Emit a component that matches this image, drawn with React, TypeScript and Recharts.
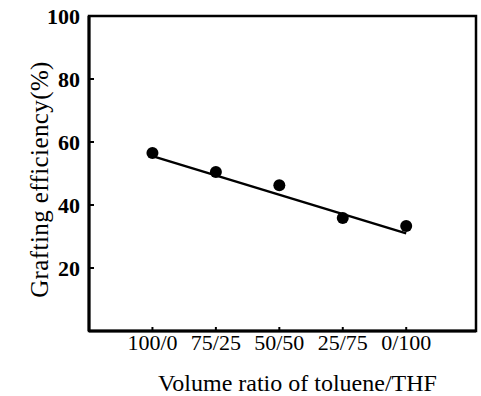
import React from 'react';
import { ScatterChart, Scatter, XAxis, YAxis, ReferenceArea, Label } from 'recharts';

const categories = ['100/0', '75/25', '50/50', '25/75', '0/100'];
const efficiency = [56.5, 50.5, 46.3, 35.9, 33.3];
const fitX = [0, 4];
const fitY = [55.5, 31];
const yTicks = [20, 40, 60, 80, 100];
const xTicks = [0, 1, 2, 3, 4];
const xTitle = 'Volume ratio of toluene/THF';
const yTitle = 'Grafting efficiency(%)';

const points = categories.map((c, i) => ({ x: i, y: efficiency[i], name: c }));
const fitLine = fitX.map((x, i) => ({ x, y: fitY[i] }));

const FONT = '"Liberation Serif", "DejaVu Serif", serif';

const Dot = (props: any) => <circle cx={props.cx} cy={props.cy} r={6} fill="#000" />;
const NoShape = () => <g />;

export default function App() {
  return (
    <div style={{ position: 'absolute', left: 0, top: 0, width: 481, height: 396, background: '#fff' }}>
      <ScatterChart width={481} height={396} margin={{ top: 16, right: 5, bottom: 0, left: 0 }}>
        <XAxis
          type="number"
          dataKey="x"
          domain={[-1, 5.1]}
          ticks={xTicks}
          interval={0}
          allowDataOverflow
          tickFormatter={(v: number) => categories[v]}
          height={65}
          axisLine={{ stroke: '#000', strokeWidth: 3 }}
          tickLine={{ stroke: '#000', strokeWidth: 2 }}
          tickSize={-4}
          tickMargin={7}
          tick={{ fill: '#000', fontSize: 22, fontFamily: FONT }}
        >
          <Label
            content={({ viewBox }: any) => (
              <text
                x={viewBox.x + viewBox.width / 2 + 15}
                y={viewBox.y + viewBox.height - 5}
                textAnchor="middle"
                fill="#000"
                fontSize={24}
                fontFamily={FONT}
              >
                {xTitle}
              </text>
            )}
          />
        </XAxis>
        <YAxis
          type="number"
          dataKey="y"
          domain={[0, 100]}
          ticks={yTicks}
          interval={0}
          allowDataOverflow
          width={89}
          axisLine={{ stroke: '#000', strokeWidth: 3 }}
          tickLine={{ stroke: '#000', strokeWidth: 2 }}
          tickSize={-5}
          tickMargin={14}
          tick={{ fill: '#000', fontSize: 22, fontFamily: FONT, fontWeight: 'bold' }}
        >
          <Label
            content={({ viewBox }: any) => {
              const cx = viewBox.x + 39;
              const cy = viewBox.y + viewBox.height / 2 + 6;
              return (
                <text
                  x={cx}
                  y={cy}
                  transform={`rotate(-90, ${cx}, ${cy})`}
                  textAnchor="middle"
                  dominantBaseline="central"
                  fill="#000"
                  style={{ fill: '#000' }}
                  fontSize={25}
                  letterSpacing={0.4}
                  fontFamily={FONT}
                >
                  {yTitle}
                </text>
              );
            }}
          />
        </YAxis>
        <ReferenceArea x1={-1} x2={5.1} y1={0} y2={100} fill="none" stroke="#000" strokeWidth={2.5} />
        <Scatter data={fitLine} line={{ stroke: '#000', strokeWidth: 2.5 }} shape={NoShape} isAnimationActive={false} legendType="none" />
        <Scatter data={points} shape={Dot} isAnimationActive={false} legendType="none" />
      </ScatterChart>
    </div>
  );
}
